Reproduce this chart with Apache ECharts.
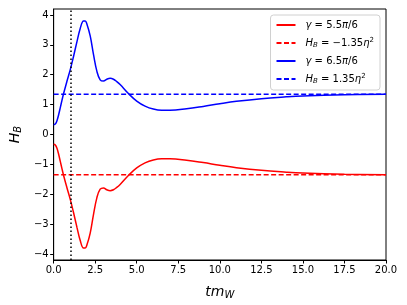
<!DOCTYPE html>
<html>
<head>
<meta charset="utf-8">
<script src="https://cdn.jsdelivr.net/npm/echarts@6/dist/echarts.min.js"></script>
<style>html,body{margin:0;padding:0;background:#fff}#c{width:407px;height:305px}</style>
</head>
<body>
<div id="c"></div>
<script>
const tValues = [0,0.1,0.2,0.3,0.4,0.5,0.6,0.8,1.0,1.2,1.4,1.6,1.8,1.9,2.0,2.2,2.4,2.6,2.8,3.0,3.2,3.4,3.6,3.8,4.0,4.5,5.0,5.5,6.0,6.5,7.0,8.0,9.0,10.0,11.0,12.5,14.0,15.0,17.5,20.0];
const blueValues = [0.33,0.35,0.46,0.66,0.9,1.14,1.37,1.78,2.17,2.62,3.1,3.55,3.8,3.8,3.7,3.3,2.67,2.12,1.83,1.79,1.85,1.88,1.85,1.77,1.67,1.37,1.12,0.95,0.85,0.81,0.81,0.86,0.94,1.03,1.11,1.2,1.26,1.29,1.33,1.35];
const redValues = [-0.33,-0.35,-0.46,-0.66,-0.9,-1.14,-1.37,-1.78,-2.17,-2.62,-3.1,-3.55,-3.8,-3.8,-3.7,-3.3,-2.67,-2.12,-1.83,-1.79,-1.85,-1.88,-1.85,-1.77,-1.67,-1.37,-1.12,-0.95,-0.85,-0.81,-0.81,-0.86,-0.94,-1.03,-1.11,-1.2,-1.26,-1.29,-1.33,-1.35];
const blueLevel = [1.35, 1.35];
const redLevel = [-1.35, -1.35];
const levelT = [0, 20];
const markT = 1;
const yTicks = [-4,-3,-2,-1,0,1,2,3,4];
const seriesNames = ['g55','hneg','g65','hpos'];

const pair = (xs, ys) => xs.map((x, i) => [x, ys[i]]);
const fmtY = v => (v < 0 ? '\u2212' + Math.abs(v) : String(v));
const font = 'DejaVu Sans';

const legendText = {
  g55: '{i|γ} = 5.5{n|π}/6',
  hneg: '{i|H}{s|B} = \u22121.35{i|η}{p|2}',
  g65: '{i|γ} = 6.5{n|π}/6',
  hpos: '{i|H}{s|B} = 1.35{i|η}{p|2}'
};

const chart = echarts.init(document.getElementById('c'), null, {renderer: 'canvas'});
chart.setOption({
  animation: false,
  textStyle: {fontFamily: font},
  grid: {left: 51, right: 21, top: 9, bottom: 44, show: true, borderColor: '#000', borderWidth: 1, containLabel: false},
  xAxis: {
    type: 'value', min: 0, max: 20, interval: 2.5,
    name: '{i|tm}{s|W}', nameLocation: 'middle', nameGap: 24,
    nameTextStyle: {rich: {i: {fontFamily: font, fontStyle: 'italic', fontSize: 14, color: '#000'}, s: {fontFamily: font, fontStyle: 'italic', fontSize: 10, color: '#000', verticalAlign: 'bottom', padding: [6,0,0,0]}}},
    axisLine: {show: true, onZero: false, lineStyle: {color: '#000'}},
    axisTick: {show: true, length: 3.5, lineStyle: {color: '#000'}},
    axisLabel: {color: '#000', fontSize: 10, margin: 5, formatter: v => v.toFixed(1)},
    splitLine: {show: false}
  },
  yAxis: {
    type: 'value', min: -4.2, max: 4.2,
    name: '{i|H}{s|B}', nameLocation: 'middle', nameGap: 28, nameRotate: 90,
    nameTextStyle: {rich: {i: {fontFamily: font, fontStyle: 'italic', fontSize: 14, color: '#000'}, s: {fontFamily: font, fontStyle: 'italic', fontSize: 10, color: '#000', padding: [6,0,0,0]}}},
    axisLine: {show: true, onZero: false, lineStyle: {color: '#000'}},
    axisTick: {show: true, length: 3.5, customValues: yTicks, lineStyle: {color: '#000'}},
    axisLabel: {color: '#000', fontSize: 10, margin: 5, customValues: yTicks, formatter: fmtY},
    splitLine: {show: false}
  },
  legend: {
    right: 27, top: 15,
    orient: 'vertical',
    itemWidth: 19, itemHeight: 10, itemGap: 7,
    padding: [5, 6, 5, 5],
    borderColor: '#d0d0d0', borderWidth: 1, borderRadius: 3,
    backgroundColor: 'rgba(255,255,255,0.8)',
    itemStyle: {opacity: 0},
    data: seriesNames,
    formatter: n => legendText[n],
    textStyle: {
      fontSize: 10, color: '#000', fontFamily: font, padding: [0,0,0,5],
      rich: {
        i: {fontStyle: 'italic', fontSize: 10, fontFamily: font, color: '#000'},
        n: {fontStyle: 'italic', fontSize: 10, fontFamily: font, color: '#000'},
        s: {fontStyle: 'italic', fontSize: 7, fontFamily: font, color: '#000', verticalAlign: 'bottom', padding: [4,0,0,0]},
        p: {fontSize: 7, fontFamily: font, color: '#000', verticalAlign: 'top', padding: [0,0,5,0]}
      }
    }
  },
  series: [
    {name: 'g55', type: 'line', data: pair(tValues, redValues), smooth: 0.4, showSymbol: false, symbol: 'none',
     itemStyle: {color: '#ff0000'}, lineStyle: {color: '#ff0000', width: 1.5}, z: 3,
     markLine: {silent: true, symbol: 'none', label: {show: false}, lineStyle: {color: '#000', type: [1.5, 2.5], width: 1.5}, data: [{xAxis: markT}]}},
    {name: 'hneg', type: 'line', data: pair(levelT, redLevel), showSymbol: false, symbol: 'none',
     itemStyle: {color: '#ff0000'}, lineStyle: {color: '#ff0000', width: 1.5, type: [5, 2.5]}, z: 2},
    {name: 'g65', type: 'line', data: pair(tValues, blueValues), smooth: 0.4, showSymbol: false, symbol: 'none',
     itemStyle: {color: '#0000ff'}, lineStyle: {color: '#0000ff', width: 1.5}, z: 3},
    {name: 'hpos', type: 'line', data: pair(levelT, blueLevel), showSymbol: false, symbol: 'none',
     itemStyle: {color: '#0000ff'}, lineStyle: {color: '#0000ff', width: 1.5, type: [5, 2.5]}, z: 2}
  ]
});
</script>
</body>
</html>
